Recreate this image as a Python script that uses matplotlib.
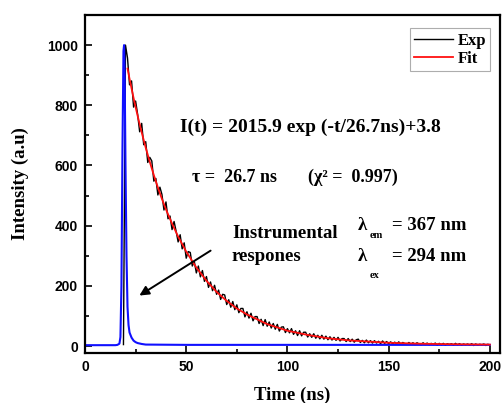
# -*- coding: utf-8 -*-
"""
Fluorescence decay with single-exponential fit and instrument response
"""

import numpy as np
import matplotlib.pyplot as plt

plt.rcParams['font.family'] = 'Liberation Serif'

#%% data

# experimental decay, one point per ns from 19 to 200 ns
exp_time = np.arange(19, 201)
exp_counts = [
    5, 1000,
    957, 868, 881, 794, 814, 770, 712, 740, 669, 679,
    610, 627, 615, 548, 557, 502, 528, 504, 452, 479,
    423, 432, 387, 414, 382, 346, 370, 323, 343, 292,
    314, 311, 266, 281, 243, 266, 230, 251, 215, 231,
    195, 213, 184, 202, 172, 186, 155, 172, 170, 138,
    154, 129, 148, 121, 137, 111, 125, 125, 97, 114,
    93, 109, 84, 98, 98, 75, 89, 68, 88, 66,
    80, 60, 75, 56, 72, 50, 63, 64, 45, 58,
    44, 58, 39, 51, 35, 51, 34, 46, 46, 30,
    41, 29, 41, 26, 36, 24, 36, 23, 33, 21,
    31, 20, 29, 19, 29, 17, 25, 25, 15, 25,
    15, 23, 13, 21, 23, 12, 19, 11, 20, 11,
    18, 10, 18, 10, 16, 8, 17, 9, 15, 8,
    14, 7, 13, 7, 14, 6, 12, 8, 5, 12,
    6, 11, 5, 11, 7, 4, 11, 5, 10, 4,
    9, 5, 10, 3, 9, 4, 9, 3, 8, 5,
    8, 3, 9, 4, 8, 3, 7, 4, 7, 3,
    8, 2, 7, 3, 6, 4, 7, 2, 6, 3,
]

# fitted curve I(t) = 2015.9 exp(-t/26.7ns) + 3.8
fit_time = [21, 22, 23, 24, 25, 26, 28, 30, 32, 34, 36, 38, 40, 43, 46, 50,
            55, 60, 65, 70, 75, 80, 90, 100, 110, 120, 130, 140, 150, 165,
            180, 200]
fit_counts = [922, 888, 856, 824, 794, 765, 710, 659, 612, 568, 527, 489,
              454, 407, 364, 314, 261, 217, 180, 150, 125, 105, 73, 51, 37,
              26, 19, 15, 11, 8, 6.2, 4.9]

# instrumental response (prompt)
irf_time = [0, 15, 16, 17, 17.5, 18, 18.5, 19, 19.3, 19.6, 20, 20.5, 21,
            21.5, 22, 23, 24, 25, 26, 28, 30, 50, 100, 200]
irf_counts = [3, 3, 4, 8, 30, 200, 650, 980, 1000, 900, 600, 300, 130,
              70, 45, 28, 18, 13, 10, 7, 5, 4, 4, 4]

x_ticks = [0, 50, 100, 150, 200]
y_ticks = [0, 200, 400, 600, 800, 1000]

#%% plot

fig = plt.figure(figsize=(5.03, 4.03), dpi=100)
ax = fig.add_axes([85/503, 1 - 353/403, 415/503, 338/403])

ax.plot(exp_time, exp_counts, color='k', lw=1.0, label='Exp')
ax.plot(irf_time, irf_counts, color='#1010ff', lw=1.5)
ax.plot(fit_time, fit_counts, color='#ff1010', lw=1.3, label='Fit')

ax.set_xlim(0, 205)
ax.set_ylim(-23, 1100)
ax.set_xticks(x_ticks)
ax.set_yticks(y_ticks)
ax.set_xticks(np.arange(25, 205, 50), minor=True)
ax.set_yticks(np.arange(100, 1100, 200), minor=True)

for lab in ax.get_xticklabels() + ax.get_yticklabels():
    lab.set_family('Liberation Sans')
    lab.set_weight('bold')
    lab.set_size(10)
ax.tick_params(which='major', direction='in', length=5, width=1.2, pad=5)
ax.tick_params(which='minor', direction='in', length=3, width=1.2)
for s in ax.spines.values():
    s.set_linewidth(1.6)

ax.set_xlabel('Time (ns)', fontsize=13.5, fontweight='bold', labelpad=9)
ax.set_ylabel('Intensity (a.u)', fontsize=13.5, fontweight='bold', labelpad=13)

leg = ax.legend(loc='upper right', bbox_to_anchor=(0.985, 0.97),
                prop={'family': 'Liberation Serif', 'weight': 'bold', 'size': 12},
                frameon=True, fancybox=False, handlelength=2.3,
                handletextpad=0.3, borderpad=0.25, labelspacing=0.15,
                borderaxespad=0.2)
leg.get_frame().set_edgecolor('#999999')
leg.get_frame().set_linewidth(0.8)

bold = dict(fontweight='bold', va='center', ha='left')
ax.text(46.9, 727, 'I(t) = 2015.9 exp (-t/26.7ns)+3.8', fontsize=14, **bold)
ax.text(52.8, 561, 'τ =  26.7 ns', fontsize=13, **bold)
ax.text(110, 561, '(χ² =  0.997)', fontsize=13, **bold)
ax.text(72.6, 375, 'Instrumental', fontsize=13.5, **bold)
ax.text(72.6, 296, 'respones', fontsize=13.5, **bold)

# lambda labels with small lowered subscripts
ax.text(134.8, 402, 'λ', fontsize=13.5, **bold)
ax.text(140.7, 369, 'em', fontsize=7.5, **bold)
ax.text(151.6, 402, '= 367 nm', fontsize=13.5, **bold)
ax.text(134.8, 296, 'λ', fontsize=13.5, **bold)
ax.text(140.7, 236, 'ex', fontsize=7.5, **bold)
ax.text(151.6, 296, '= 294 nm', fontsize=13.5, **bold)

ax.annotate('', xy=(25.7, 163), xytext=(63.2, 322),
            arrowprops=dict(arrowstyle='-|>', color='k', lw=1.4,
                            mutation_scale=14))

plt.savefig('out.png', dpi=100)
